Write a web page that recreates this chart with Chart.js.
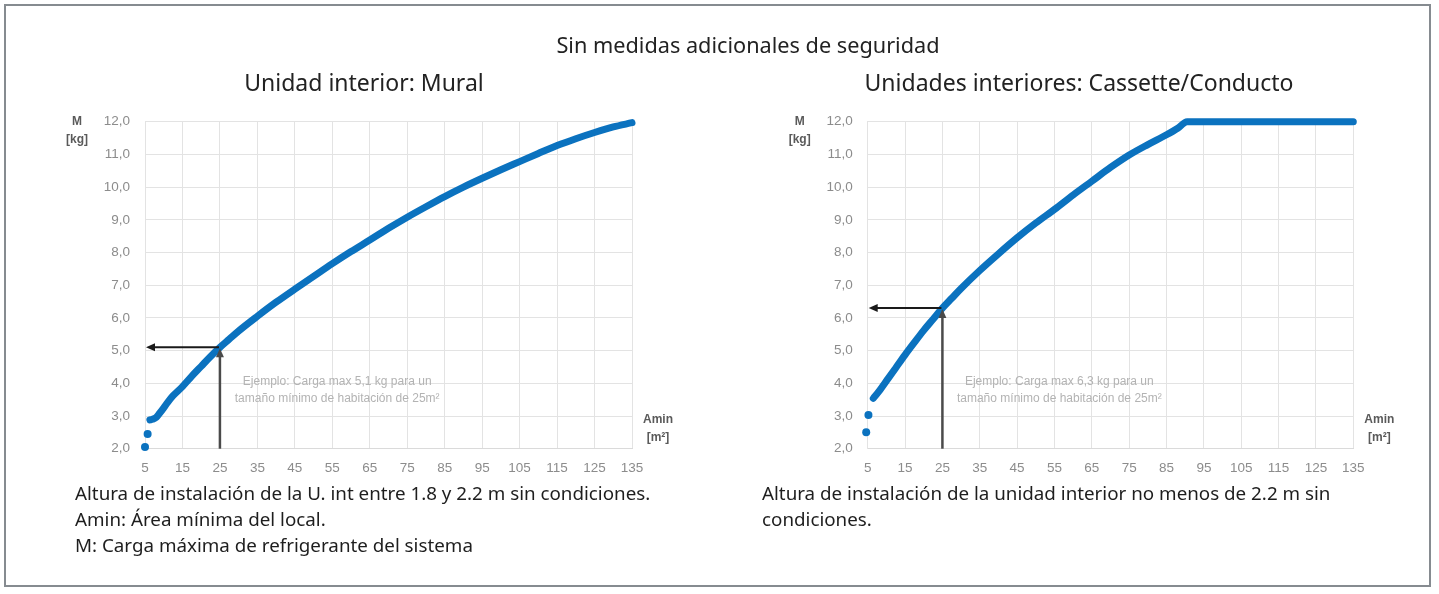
<!DOCTYPE html>
<html lang="es">
<head>
<meta charset="utf-8">
<title>Sin medidas adicionales de seguridad</title>
<script src="https://cdn.jsdelivr.net/npm/chart.js@4.4.1/dist/chart.umd.min.js"></script>
<style>
  html, body { margin: 0; padding: 0; background: #fff; }
  body { width: 1439px; height: 594px; position: relative; overflow: hidden; font-family: "Noto Sans", "Open Sans", sans-serif; }
  .frame { position: absolute; left: 4px; top: 4px; width: 1427px; height: 583px; border: 2px solid #868b90; box-sizing: border-box; }
  canvas { position: absolute; top: 0; }
  #chartMural { left: 0; }
  #chartCassette { left: 720px; }
  .t { position: absolute; white-space: nowrap; color: #222; line-height: 1; }
  .c { transform: translate(-50%, -50%); }
  .l { transform: translateY(-50%); }
  .title { font-size: 21.7px; }
  .sub { font-size: 23px; }
  .cap { font-size: 18.8px; color: #1e1e1e; }
</style>
</head>
<body>
<div class="frame"></div>
<canvas id="chartMural" width="720" height="594"></canvas>
<canvas id="chartCassette" width="719" height="594"></canvas>

<div class="t c title" style="left:748px; top:45px;">Sin medidas adicionales de seguridad</div>
<div class="t c sub" style="left:364px; top:82px;">Unidad interior: Mural</div>
<div class="t c sub" style="left:1079px; top:82px;">Unidades interiores: Cassette/Conducto</div>

<div class="t l cap" style="left:75px; top:493px;">Altura de instalación de la U. int entre 1.8 y 2.2 m sin condiciones.</div>
<div class="t l cap" style="left:75px; top:519px;">Amin: Área mínima del local.</div>
<div class="t l cap" style="left:75px; top:545px;">M: Carga máxima de refrigerante del sistema</div>
<div class="t l cap" style="left:762px; top:493px;">Altura de instalación de la unidad interior no menos de 2.2 m sin</div>
<div class="t l cap" style="left:762px; top:519px;">condiciones.</div>

<script>
// Axis ticks shared by both charts
const areaTicks = [5, 15, 25, 35, 45, 55, 65, 75, 85, 95, 105, 115, 125, 135];
const cargaTicks = [2, 3, 4, 5, 6, 7, 8, 9, 10, 11, 12];

// Unidad interior: Mural — area (m²) and maximum charge (kg)
const areaMuralSueltos  = [5, 5.7];
const cargaMuralSueltos = [2.05, 2.45];
const areaMural  = [6.3, 7, 8, 9, 10, 11, 12.5, 15, 17.5, 20, 22.5, 25, 27.5, 30, 35, 40, 45, 50, 55, 60,
                    65, 70, 75, 80, 85, 90, 95, 100, 105, 110, 115, 120, 125, 130, 135];
const cargaMural = [2.88, 2.9, 2.96, 3.1, 3.25, 3.41, 3.62, 3.9, 4.22, 4.52, 4.82, 5.1, 5.35, 5.6, 6.05, 6.48, 6.88, 7.27, 7.66, 8.03,
                    8.38, 8.74, 9.08, 9.4, 9.71, 10.0, 10.27, 10.53, 10.78, 11.03, 11.27, 11.48, 11.67, 11.84, 11.97];

// Unidades interiores: Cassette/Conducto
const areaCassetteSueltos  = [4.6, 5.2];
const cargaCassetteSueltos = [2.5, 3.03];
const areaCassette  = [6.5, 8, 10.5, 12.5, 15, 17.5, 20, 22.5, 25, 27.5, 30, 35, 40, 45, 50, 55, 60, 65, 70,
                       75, 80, 85, 88, 90.5, 95, 105, 115, 125, 135];
const cargaCassette = [3.54, 3.75, 4.15, 4.47, 4.87, 5.25, 5.62, 5.96, 6.3, 6.6, 6.9, 7.45, 7.96, 8.45, 8.9, 9.32, 9.76, 10.18, 10.6,
                       10.98, 11.3, 11.6, 11.8, 12.0, 12, 12, 12, 12, 12];

// Worked examples marked with arrows
const ejemploMural    = { area: 25, carga: 5.1, texto: ['Ejemplo: Carga max 5,1 kg para un', 'tamaño mínimo de habitación de 25m²'] };
const ejemploCassette = { area: 25, carga: 6.3, texto: ['Ejemplo: Carga max 6,3 kg para un', 'tamaño mínimo de habitación de 25m²'] };

const AZUL = '#0b72bf';
const pares = (xs, ys) => xs.map((x, i) => ({ x, y: ys[i] }));

function flecha(ctx, x1, y1, x2, y2, color, ancho) {
  // line from (x1,y1) to (x2,y2) with a head at (x2,y2)
  const ang = Math.atan2(y2 - y1, x2 - x1);
  const largo = 9, medio = 4;
  ctx.save();
  ctx.strokeStyle = color; ctx.fillStyle = color; ctx.lineWidth = ancho;
  ctx.beginPath();
  ctx.moveTo(x1, y1);
  ctx.lineTo(x2 - Math.cos(ang) * largo * 0.8, y2 - Math.sin(ang) * largo * 0.8);
  ctx.stroke();
  ctx.beginPath();
  ctx.moveTo(x2, y2);
  ctx.lineTo(x2 - Math.cos(ang) * largo - Math.sin(ang) * medio, y2 - Math.sin(ang) * largo + Math.cos(ang) * medio);
  ctx.lineTo(x2 - Math.cos(ang) * largo + Math.sin(ang) * medio, y2 - Math.sin(ang) * largo - Math.cos(ang) * medio);
  ctx.closePath();
  ctx.fill();
  ctx.restore();
}

const anotaciones = {
  id: 'anotaciones',
  afterDatasetsDraw(chart, args, opts) {
    const { ctx, chartArea: a, scales: { x, y } } = chart;
    const ej = opts.ejemplo;
    const px = x.getPixelForValue(ej.area);
    const py = y.getPixelForValue(ej.carga);
    // vertical arrow from the area axis up to the curve
    flecha(ctx, px, a.bottom, px, py + 1, '#4a4a4a', 2.5);
    // horizontal arrow from the curve to the charge axis
    flecha(ctx, px - 1, py, a.left + 1, py, '#1a1a1a', 2);

    ctx.save();
    ctx.fillStyle = '#b3b3b3';
    ctx.font = '12px "Liberation Sans", Arial, sans-serif';
    ctx.textAlign = 'center';
    ctx.textBaseline = 'middle';
    const tx = x.getPixelForValue(56.3);
    ctx.fillText(ej.texto[0], tx, y.getPixelForValue(4.05));
    ctx.fillText(ej.texto[1], tx, y.getPixelForValue(3.52));

    // axis names
    ctx.fillStyle = '#5a5a5a';
    ctx.font = 'bold 12px "Liberation Sans", Arial, sans-serif';
    const yTop = y.getPixelForValue(12);
    ctx.fillText('M', a.left - 68, yTop);
    ctx.fillText('[kg]', a.left - 68, yTop + 18);
    ctx.fillText('Amin', a.right + 26, y.getPixelForValue(2.9));
    ctx.fillText('[m²]', a.right + 26, y.getPixelForValue(2.35));
    ctx.restore();
  }
};

function grafico(id, sueltos, curva, ejemplo, padRight, yWidth) {
  const fuenteTicks = { family: '"Liberation Sans", Arial, sans-serif', size: 13.5 };
  return new Chart(document.getElementById(id), {
    type: 'scatter',
    data: {
      datasets: [
        { data: sueltos, showLine: false, pointRadius: 4, pointBackgroundColor: AZUL, pointBorderWidth: 0, clip: false },
        { data: curva, showLine: true, borderColor: AZUL, borderWidth: 7, pointRadius: 0,
          borderCapStyle: 'round', borderJoinStyle: 'round', cubicInterpolationMode: 'monotone', clip: false }
      ]
    },
    options: {
      responsive: false,
      animation: false,
      events: [],
      layout: { padding: { top: 121.7, right: padRight, bottom: 0, left: 0 } },
      plugins: { legend: { display: false }, tooltip: { enabled: false }, anotaciones: { ejemplo } },
      scales: {
        x: {
          type: 'linear', min: 5, max: 135,
          afterBuildTicks: s => { s.ticks = areaTicks.map(v => ({ value: v })); },
          afterFit: s => { s.height = 594 - 448.7; },
          grid: { color: '#e3e3e3', lineWidth: 1, drawTicks: false },
          border: { color: '#dadada' },
          ticks: { color: '#8c8c8c', font: fuenteTicks, padding: 11, maxRotation: 0, autoSkip: false }
        },
        y: {
          type: 'linear', min: 2, max: 12,
          afterBuildTicks: s => { s.ticks = cargaTicks.map(v => ({ value: v })); },
          afterFit: s => { s.width = yWidth; },
          grid: { color: '#e3e3e3', lineWidth: 1, drawTicks: false },
          border: { color: '#e3e3e3' },
          ticks: { color: '#8c8c8c', font: fuenteTicks, padding: 15,
                   callback: v => v.toFixed(1).replace('.', ',') }
        }
      }
    },
    plugins: [anotaciones]
  });
}

grafico('chartMural',
        pares(areaMuralSueltos, cargaMuralSueltos),
        pares(areaMural, cargaMural),
        ejemploMural, 720 - 632, 145);
grafico('chartCassette',
        pares(areaCassetteSueltos, cargaCassetteSueltos),
        pares(areaCassette, cargaCassette),
        ejemploCassette, 719 - 633.3, 147.7);
</script>
</body>
</html>
